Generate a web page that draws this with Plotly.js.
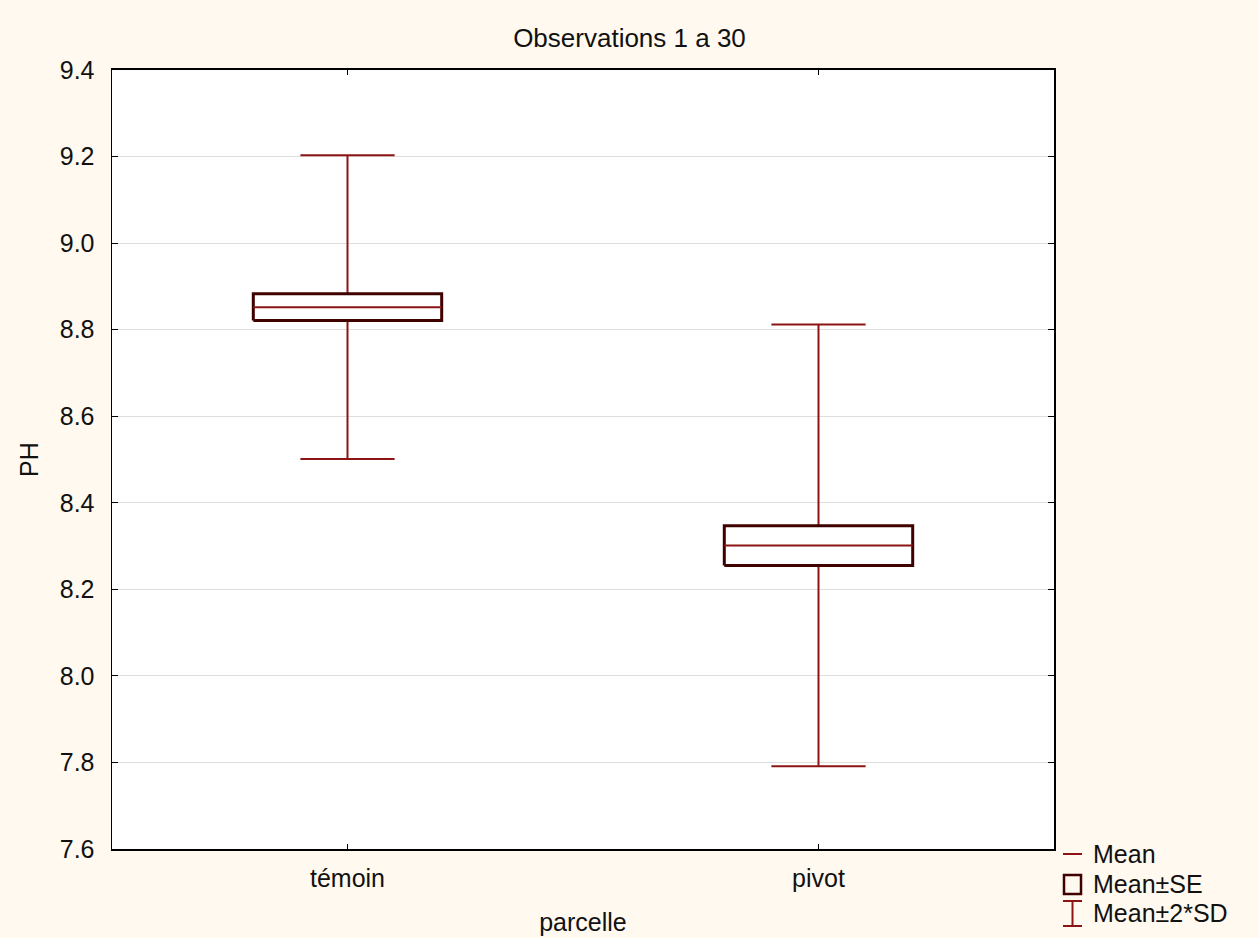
<!DOCTYPE html>
<html>
<head>
<meta charset="utf-8">
<script src="https://cdn.plot.ly/plotly-3.0.1.min.js"></script>
<style>
  html, body { margin: 0; padding: 0; background: #fff9ef; }
  #chart { width: 1259px; height: 938px; }
</style>
</head>
<body>
<div id="chart"></div>
<script>
// pH by plot type (30 observations): mean, mean ± SE, mean ± 2*SD
const categories = ['témoin', 'pivot'];
const meanValues = [8.852, 8.301];
const seLow = [8.821, 8.255];
const seHigh = [8.883, 8.347];
const sdLow = [8.501, 7.791];
const sdHigh = [9.203, 8.812];
const yTicks = [7.6, 7.8, 8.0, 8.2, 8.4, 8.6, 8.8, 9.0, 9.2, 9.4];

const RED = '#8c1414';
const DARK = '#3f0000';
const FONT = 'Arial, "Liberation Sans", sans-serif';
const FS = 25;
const boxHalf = 0.2;
const capHalf = 0.1;

const W = 1259, H = 938;
const M = { l: 112, r: 205, t: 70, b: 89 };
const PW = W - M.l - M.r, PH = H - M.t - M.b;
const px = x => (x - M.l) / PW;
const py = y => (H - M.b - y) / PH;

const traces = [];
categories.forEach((c, i) => {
  // whisker: mean ± 2*SD with caps
  traces.push({
    type: 'scatter', mode: 'lines', hoverinfo: 'skip', showlegend: false,
    x: [i, i, null, i - capHalf, i + capHalf, null, i - capHalf, i + capHalf],
    y: [sdLow[i], sdHigh[i], null, sdHigh[i], sdHigh[i], null, sdLow[i], sdLow[i]],
    line: { color: RED, width: 2 }
  });
  // box: mean ± SE
  traces.push({
    type: 'scatter', mode: 'lines', hoverinfo: 'skip', showlegend: false,
    x: [i - boxHalf, i + boxHalf, i + boxHalf, i - boxHalf, i - boxHalf],
    y: [seLow[i], seLow[i], seHigh[i], seHigh[i], seLow[i]],
    fill: 'toself', fillcolor: '#ffffff',
    line: { color: DARK, width: 3 }
  });
  // mean line
  traces.push({
    type: 'scatter', mode: 'lines', hoverinfo: 'skip', showlegend: false,
    x: [i - boxHalf, i + boxHalf],
    y: [meanValues[i], meanValues[i]],
    line: { color: RED, width: 2 }
  });
});

// hand-built legend in the right margin
const legendItems = ['Mean', 'Mean±SE', 'Mean±2*SD'];
const legendY = [854, 884, 913];
const iconL = 1063, iconR = 1082, textX = 1091;
const shapes = [
  { type: 'line', xref: 'paper', yref: 'paper', x0: px(iconL), x1: px(iconR), y0: py(legendY[0]), y1: py(legendY[0]), line: { color: RED, width: 2 } },
  { type: 'rect', xref: 'paper', yref: 'paper', x0: px(iconL + 1), x1: px(iconR - 1), y0: py(legendY[1] + 10), y1: py(legendY[1] - 9), line: { color: DARK, width: 2.5 }, fillcolor: 'rgba(0,0,0,0)' },
  { type: 'line', xref: 'paper', yref: 'paper', x0: px(1072.5), x1: px(1072.5), y0: py(legendY[2] + 13), y1: py(legendY[2] - 12), line: { color: RED, width: 2 } },
  { type: 'line', xref: 'paper', yref: 'paper', x0: px(iconL), x1: px(iconR), y0: py(legendY[2] + 13), y1: py(legendY[2] + 13), line: { color: RED, width: 2 } },
  { type: 'line', xref: 'paper', yref: 'paper', x0: px(iconL), x1: px(iconR), y0: py(legendY[2] - 12), y1: py(legendY[2] - 12), line: { color: RED, width: 2 } }
];
const annotations = legendItems.map((t, k) => ({
  text: t, xref: 'paper', yref: 'paper', x: px(textX), y: py(legendY[k]),
  xanchor: 'left', yanchor: 'middle', showarrow: false,
  font: { family: FONT, size: FS, color: '#111' }
}));

const layout = {
  width: W, height: H,
  margin: M,
  paper_bgcolor: '#fff9ef',
  plot_bgcolor: '#ffffff',
  font: { family: FONT, size: FS, color: '#111' },
  showlegend: false,
  title: {
    text: 'Observations 1 a 30',
    x: 0.5, xref: 'container', xanchor: 'center',
    y: 1 - 38 / H, yref: 'container', yanchor: 'middle',
    font: { family: FONT, size: 26, color: '#111' }
  },
  xaxis: {
    range: [-0.5, 1.5],
    tickmode: 'array', tickvals: categories.map((c, i) => i), ticktext: categories,
    showgrid: false, zeroline: false,
    showline: true, linecolor: '#000', linewidth: 2, mirror: 'ticks',
    ticks: 'inside', ticklen: 5, tickcolor: '#000', tickwidth: 1,
    ticklabelstandoff: 6,
    tickfont: { family: FONT, size: FS, color: '#111' },
    title: { text: 'parcelle', standoff: 22, font: { family: FONT, size: FS, color: '#111' } }
  },
  yaxis: {
    range: [7.6, 9.4],
    tickmode: 'array', tickvals: yTicks, ticktext: yTicks.map(v => v.toFixed(1)),
    showgrid: true, gridcolor: '#dedede', gridwidth: 1, zeroline: false,
    showline: true, linecolor: '#000', linewidth: 1.5, mirror: 'ticks',
    ticks: 'inside', ticklen: 6, tickcolor: '#000', tickwidth: 1,
    ticklabelstandoff: 11,
    tickfont: { family: FONT, size: FS, color: '#111' },
    title: { text: 'PH', standoff: 14, font: { family: FONT, size: FS, color: '#111' } }
  },
  shapes: shapes,
  annotations: annotations
};

Plotly.newPlot('chart', traces, layout, { displayModeBar: false, staticPlot: true });
</script>
</body>
</html>
